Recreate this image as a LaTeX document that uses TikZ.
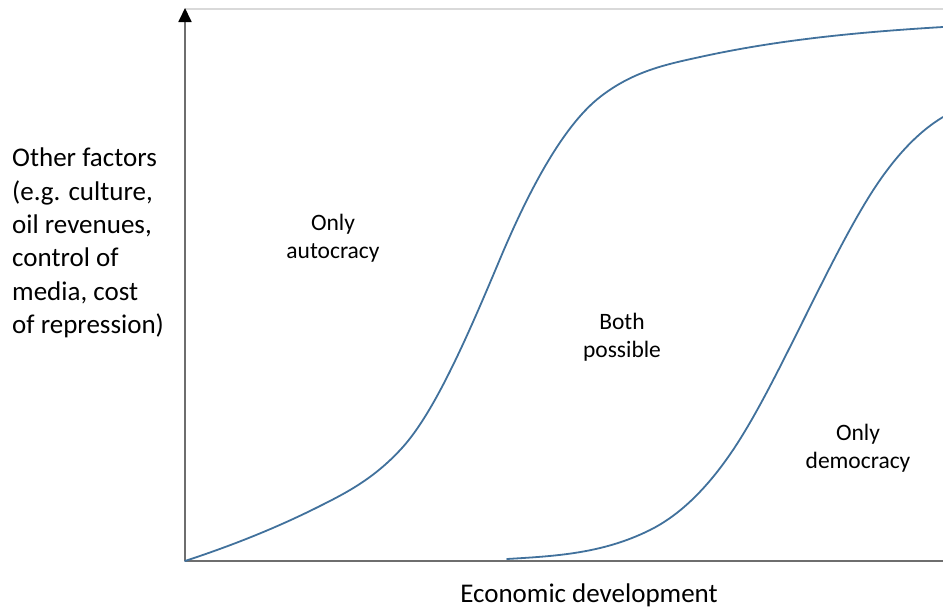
\documentclass[tikz,border=0pt]{standalone}
\usepackage{fontspec}
\setmainfont{Carlito}
\usetikzlibrary{arrows.meta}
\definecolor{curveblue}{RGB}{65,113,156}
\definecolor{axisgray}{RGB}{110,110,110}
\definecolor{framegray}{RGB}{217,217,217}
\begin{document}
\begin{tikzpicture}[x=1pt,y=-1pt,
  curve/.style={draw=curveblue,line width=1.8pt,line cap=round},
  axisline/.style={draw=axisgray,line width=1.8pt},
  axislabel/.style={font=\fontsize{27}{33.4}\selectfont,inner sep=0pt},
  regionlabel/.style={font=\fontsize{23.5}{28.5}\selectfont,align=center,inner sep=0pt}]
\useasboundingbox (0,0) rectangle (943,608);
\coordinate (O) at (185,561);
\coordinate (ytop) at (185,8);
\coordinate (xend) at (943,561);
\coordinate (tl) at (185,9);
\coordinate (tr) at (943,9);
% light top frame line
\draw[draw=framegray,line width=2pt] (tl) -- (tr);
% axes
\draw[axisline] (O) -- (xend);
\draw[axisline,-{Triangle[length=14pt,width=13pt,fill=black,color=black]}] (O) -- (ytop);
% curve 1 (autocracy boundary)
\coordinate (a0) at (185,561);
\coordinate (a0b) at (318,507);
\coordinate (a1) at (402,448);
\coordinate (a2) at (500,259);
\coordinate (a3) at (600,97);
\coordinate (a4) at (700,57);
\coordinate (a5) at (943,27);
\draw[curve] (a0) .. controls (229.33,546.4) and (273.67,529.2) .. (a0b)
  .. controls (346,493) and (374,478.8) .. (a1)
  .. controls (434.67,412.1) and (467.33,336.8) .. (a2)
  .. controls (533.33,179.7) and (566.67,123) .. (a3)
  .. controls (633.33,71) and (666.67,64.3) .. (a4)
  .. controls (781,39.2) and (862,31.9) .. (a5);
% curve 2 (democracy boundary)
\coordinate (b0) at (507,559);
\coordinate (b1) at (650,530);
\coordinate (b2) at (733,450);
\coordinate (b3) at (800,327);
\coordinate (b4) at (867,200);
\coordinate (b5) at (943,117);
\draw[curve] (b0) .. controls (554.67,556.1) and (602.33,553.8) .. (b1)
  .. controls (677.67,516.2) and (705.33,491.2) .. (b2)
  .. controls (755.33,416.7) and (777.67,371.7) .. (b3)
  .. controls (822.33,282.3) and (844.67,236.6) .. (b4)
  .. controls (892.33,158.5) and (917.67,132.2) .. (b5);
% labels
\node[axislabel,align=left,anchor=west] (ylab) at (12,243) {Other factors\\(e.g. culture,\\oil revenues,\\control of\\media, cost\\of repression)};
\node[axislabel,anchor=base] (xlab) at (589,602) {Economic development};
\node[regionlabel] (auto) at (333,238) {Only\\autocracy};
\node[regionlabel] (both) at (622,337) {Both\\possible};
\node[regionlabel] (demo) at (858,448) {Only\\democracy};
\end{tikzpicture}
\end{document}
